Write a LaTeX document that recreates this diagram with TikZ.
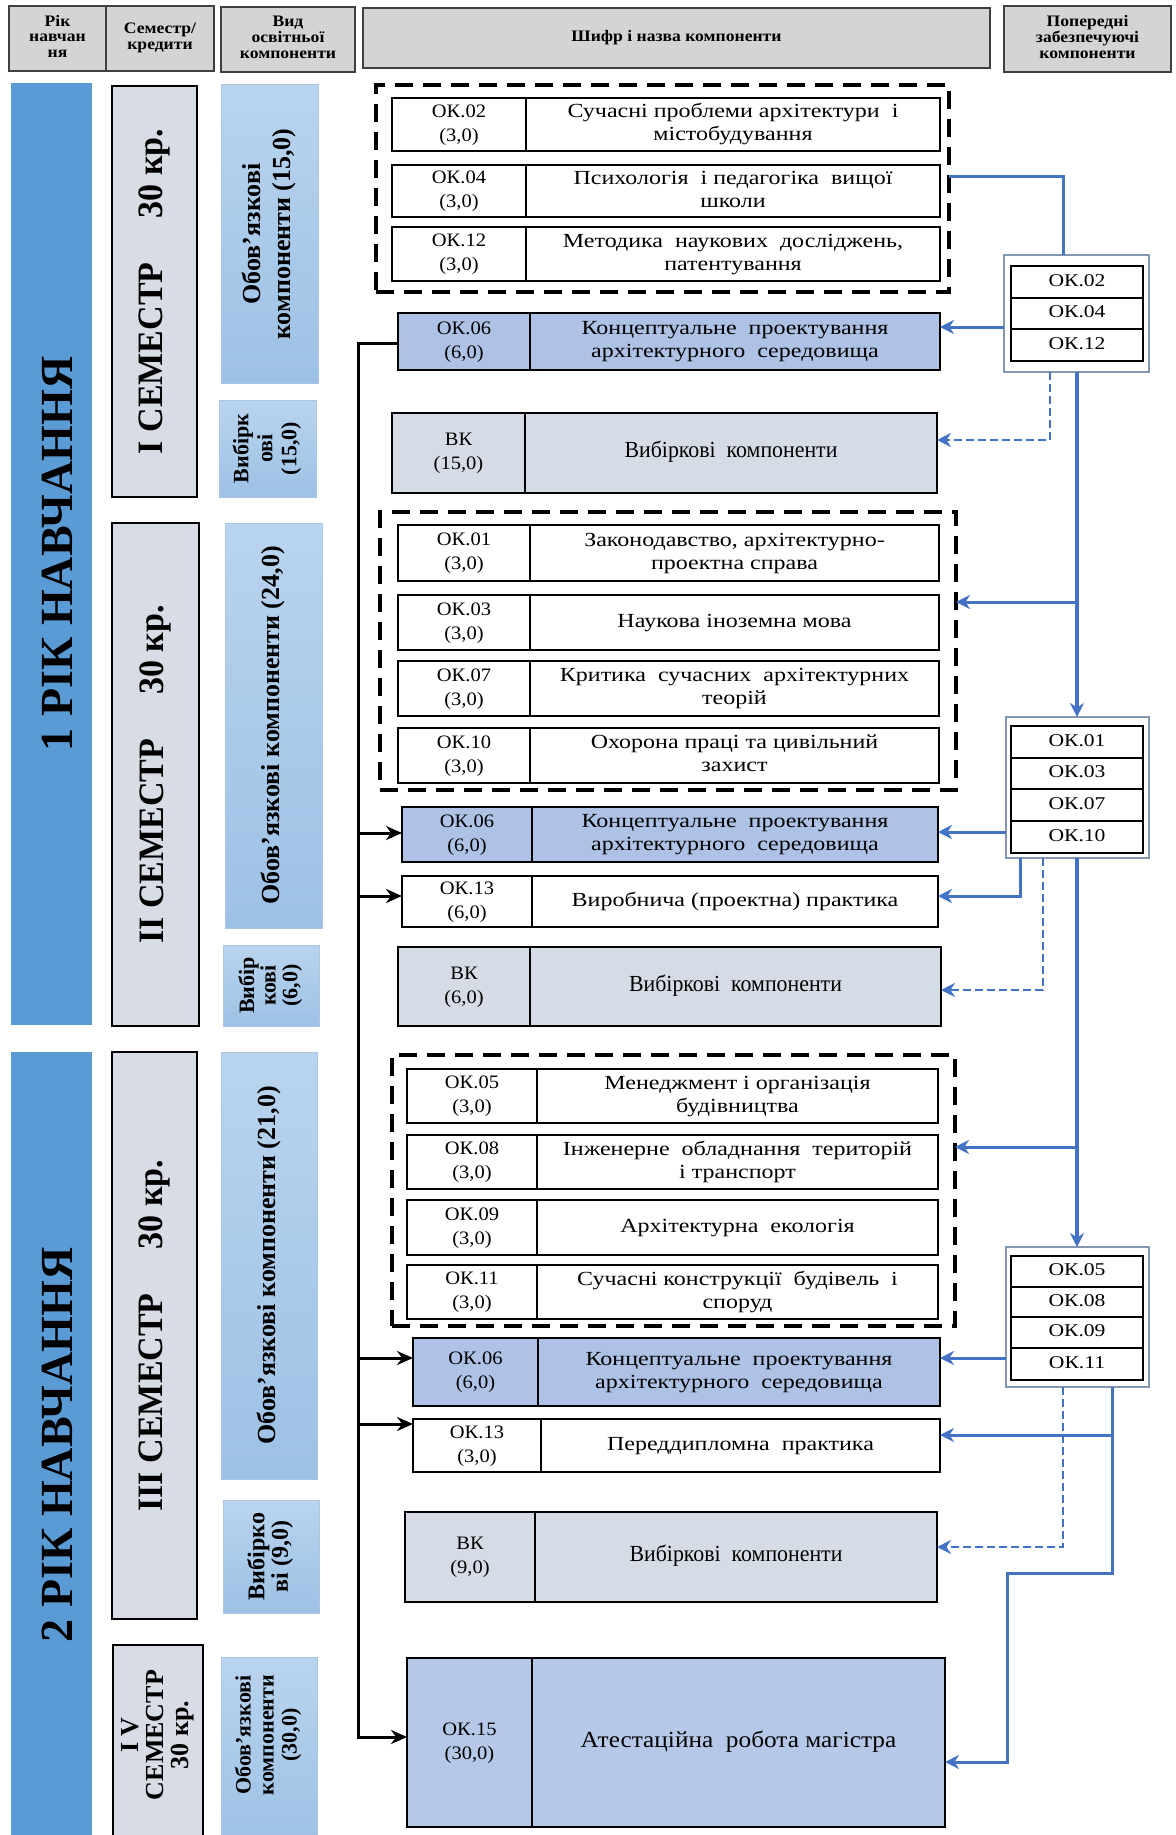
\documentclass[tikz,border=0pt]{standalone}
\usepackage{fontspec}
\setmainfont{Liberation Serif}
\usepackage{graphicx}
\usetikzlibrary{arrows.meta}
\definecolor{yearblue}{HTML}{5B9BD5}
\definecolor{semfill}{HTML}{D8DCE4}
\definecolor{obtop}{HTML}{B9D4EE}
\definecolor{obbot}{HTML}{9DC1E5}
\definecolor{obline}{HTML}{A9C6E6}
\definecolor{okblue}{HTML}{ADC2E5}
\definecolor{attblue}{HTML}{B5C8E8}
\definecolor{vkfill}{HTML}{D6DCE5}
\definecolor{hdrfill}{HTML}{D4D4D4}
\definecolor{hdrline}{HTML}{404040}
\definecolor{lnblue}{HTML}{4472C4}
\definecolor{grpline}{HTML}{8497B0}
\newcommand\mybox[7]{\node[#2,minimum width={((#5)-(#3))*0.5pt},minimum height={((#6)-(#4))*0.5pt}] (#1) at ({((#3)+(#5))/2},{((#4)+(#6))/2}) {#7};}
\newcommand\tx[4][1.2]{\scalebox{#1}[1]{\fontsize{#2}{#3}\selectfont\begin{tabular}{@{}c@{}}#4\end{tabular}}}
\newcommand\txb[4][1.2]{\scalebox{#1}[1]{\fontsize{#2}{#3}\selectfont\bfseries\begin{tabular}{@{}c@{}}#4\end{tabular}}}
\newcommand\rtx[4][1.0]{\scalebox{1}[#1]{\fontsize{#2}{#3}\selectfont\bfseries\begin{tabular}{@{}c@{}}#4\end{tabular}}}
\begin{document}
\begin{tikzpicture}[x=0.5pt,y=-0.5pt,
 every node/.style={inner sep=0pt,outer sep=0pt},
 hdr/.style={draw=hdrline,line width=0.7pt,fill=hdrfill},
 yearbar/.style={fill=yearblue},
 sembox/.style={draw=black,line width=0.7pt,fill=semfill},
 obbox/.style={draw=obline,line width=0.5pt,top color=obtop,bottom color=obbot},
 cell/.style={draw=black,line width=0.8pt,fill=white},
 bluecell/.style={cell,fill=okblue},
 attcell/.style={cell,fill=attblue},
 vkcell/.style={cell,fill=vkfill},
 dgroup/.style={draw=black,line width=1.6pt,dash pattern=on 9pt off 5pt},
 grp/.style={draw=grpline,line width=0.8pt,fill=white},
 gcell/.style={draw=black,line width=0.8pt},
 bline/.style={draw=lnblue,line width=1.5pt},
 bthick/.style={draw=lnblue,line width=2.3pt},
 bdash/.style={draw=lnblue,line width=1.4pt,dash pattern=on 4pt off 2pt},
 btip/.style={-{Stealth[length=7pt,width=7pt]}},
 kline/.style={draw=black,line width=1.5pt},
 ktip/.style={-{Stealth[length=8pt,width=7pt]}}
]
\useasboundingbox (0,0) rectangle (1175,1835);
\fill[white] (0,0) rectangle (1175,1835);

% ---------- header ----------
\mybox{h1}{hdr}{9}{6}{106}{71}{\txb[1.1]{8}{7.8}{Рік\\навчан\\ня}}
\mybox{h2}{hdr}{106}{6}{214}{71}{\txb[1.1]{8}{7.8}{Семестр/\\кредити}}
\mybox{h3}{hdr}{221}{7}{355}{72}{\txb[1.1]{8}{7.8}{Вид\\освітньої\\компоненти}}
\mybox{h4}{hdr}{363}{8}{990}{68}{\txb[1.1]{8}{7.8}{Шифр і назва компоненти}}
\mybox{h5}{hdr}{1004}{6}{1171}{72}{\txb[1.1]{8}{7.8}{Попередні\\забезпечуючі\\компоненти}}

% ---------- left columns ----------
\mybox{y1}{yearbar}{11}{83}{92}{1025}{}
\node[rotate=90] (y1t) at (62,554) {\rtx{23}{26}{1 РІК НАВЧАННЯ}};
\mybox{y2}{yearbar}{11}{1052}{92}{1840}{}
\node[rotate=90] (y2t) at (62,1445) {\rtx{23}{26}{2 РІК НАВЧАННЯ}};

\mybox{s1}{sembox}{112}{86}{197}{497}{}
\node[rotate=90] (s1t) at (s1.center) {\rtx[1.05]{17}{20}{I СЕМЕСТР\hspace{1.3em}30 кр.}};
\mybox{s2}{sembox}{112}{523}{199}{1026}{}
\node[rotate=90] (s2t) at (s2.center) {\rtx[1.05]{17}{20}{II СЕМЕСТР\hspace{1.3em}30 кр.}};
\mybox{s3}{sembox}{112}{1052}{197}{1619}{}
\node[rotate=90] (s3t) at (s3.center) {\rtx[1.05]{17}{20}{III СЕМЕСТР\hspace{1.3em}30 кр.}};
\mybox{s4}{sembox}{113}{1645}{203}{1845}{}
\node[rotate=90] (s4t) at (158,1735) {\rtx{13}{12.5}{I V\\СЕМЕСТР\\30 кр.}};

\mybox{o1}{obbox}{221}{85}{318}{383}{}
\node[rotate=90] (o1t) at (o1.center) {\rtx{13}{15}{Обов’язкові\\компоненти (15,0)}};
\mybox{v1}{obbox}{219}{400}{316}{497}{}
\node[rotate=90] (v1t) at (v1.center) {\rtx{11}{12}{Вибірк\\ові\\(15,0)}};
\mybox{o2}{obbox}{225}{523}{322}{928}{}
\node[rotate=90] (o2t) at (o2.center) {\rtx{13}{15}{Обов’язкові компоненти (24,0)}};
\mybox{v2}{obbox}{223}{945}{319}{1026}{}
\node[rotate=90] (v2t) at (v2.center) {\rtx{11}{10.5}{Вибір\\кові\\(6,0)}};
\mybox{o3}{obbox}{221}{1052}{317}{1479}{}
\node[rotate=90] (o3t) at (o3.center) {\rtx{13}{15}{Обов’язкові компоненти (21,0)}};
\mybox{v3}{obbox}{223}{1500}{319}{1613}{}
\node[rotate=90] (v3t) at (v3.center) {\rtx{12}{11.5}{Вибірко\\ві (9,0)}};
\mybox{o4}{obbox}{221}{1657}{317}{1845}{}
\node[rotate=90] (o4t) at (269,1735) {\rtx{11}{11.5}{Обов’язкові\\компоненти\\(30,0)}};

% ---------- semester I ----------
\mybox{d1}{dgroup}{376}{85}{949}{292}{}
\mybox{a02c}{cell}{392}{98}{526}{151}{\tx[1.08]{9.5}{12}{ОК.02\\(3,0)}}
\mybox{a02n}{cell}{526}{98}{940}{151}{\tx{10}{11.6}{Сучасні проблеми архітектури~ і\\містобудування}}
\mybox{a04c}{cell}{392}{165}{526}{217}{\tx[1.08]{9.5}{12}{ОК.04\\(3,0)}}
\mybox{a04n}{cell}{526}{165}{940}{217}{\tx{10}{11.6}{Психологія~ і педагогіка~ вищої\\школи}}
\mybox{a12c}{cell}{392}{227}{526}{281}{\tx[1.08]{9.5}{12}{ОК.12\\(3,0)}}
\mybox{a12n}{cell}{526}{227}{940}{281}{\tx{10}{11.6}{Методика~ наукових~ досліджень,\\патентування}}
\mybox{a06c}{bluecell}{398}{313}{530}{370}{\tx[1.08]{9.5}{12}{ОК.06\\(6,0)}}
\mybox{a06n}{bluecell}{530}{313}{940}{370}{\tx{10}{11.6}{Концептуальне~ проектування\\архітектурного~ середовища}}
\mybox{avkc}{vkcell}{392}{413}{525}{493}{\tx[1.08]{9.5}{12}{ВК\\(15,0)}}
\mybox{avkn}{vkcell}{525}{413}{937}{493}{\tx[0.95]{11.5}{12}{Вибіркові~ компоненти}}

% ---------- semester II ----------
\mybox{d2}{dgroup}{380}{512}{956}{790}{}
\mybox{b01c}{cell}{398}{525}{530}{581}{\tx[1.08]{9.5}{12}{ОК.01\\(3,0)}}
\mybox{b01n}{cell}{530}{525}{939}{581}{\tx{10}{11.6}{Законодавство, архітектурно-\\проектна справа}}
\mybox{b03c}{cell}{398}{595}{530}{650}{\tx[1.08]{9.5}{12}{ОК.03\\(3,0)}}
\mybox{b03n}{cell}{530}{595}{939}{650}{\tx{10}{11.6}{Наукова іноземна мова}}
\mybox{b07c}{cell}{398}{661}{530}{716}{\tx[1.08]{9.5}{12}{ОК.07\\(3,0)}}
\mybox{b07n}{cell}{530}{661}{939}{716}{\tx{10}{11.6}{Критика~ сучасних~ архітектурних\\теорій}}
\mybox{b10c}{cell}{398}{728}{530}{783}{\tx[1.08]{9.5}{12}{ОК.10\\(3,0)}}
\mybox{b10n}{cell}{530}{728}{939}{783}{\tx{10}{11.6}{Охорона праці та цивільний\\захист}}
\mybox{b06c}{bluecell}{402}{807}{532}{862}{\tx[1.08]{9.5}{12}{ОК.06\\(6,0)}}
\mybox{b06n}{bluecell}{532}{807}{938}{862}{\tx{10}{11.6}{Концептуальне~ проектування\\архітектурного~ середовища}}
\mybox{b13c}{cell}{402}{876}{532}{927}{\tx[1.08]{9.5}{12}{ОК.13\\(6,0)}}
\mybox{b13n}{cell}{532}{876}{938}{927}{\tx{10}{11.6}{Виробнича (проектна) практика}}
\mybox{bvkc}{vkcell}{398}{947}{530}{1026}{\tx[1.08]{9.5}{12}{ВК\\(6,0)}}
\mybox{bvkn}{vkcell}{530}{947}{941}{1026}{\tx[0.95]{11.5}{12}{Вибіркові~ компоненти}}

% ---------- semester III/IV ----------
\mybox{d3}{dgroup}{392}{1055}{955}{1326}{}
\mybox{c05c}{cell}{407}{1069}{537}{1123}{\tx[1.08]{9.5}{12}{ОК.05\\(3,0)}}
\mybox{c05n}{cell}{537}{1069}{938}{1123}{\tx{10}{11.6}{Менеджмент і організація\\будівництва}}
\mybox{c08c}{cell}{407}{1135}{537}{1189}{\tx[1.08]{9.5}{12}{ОК.08\\(3,0)}}
\mybox{c08n}{cell}{537}{1135}{938}{1189}{\tx{10}{11.6}{Інженерне~ обладнання~ територій\\і транспорт}}
\mybox{c09c}{cell}{407}{1200}{537}{1255}{\tx[1.08]{9.5}{12}{ОК.09\\(3,0)}}
\mybox{c09n}{cell}{537}{1200}{938}{1255}{\tx{10}{11.6}{Архітектурна~ екологія}}
\mybox{c11c}{cell}{407}{1265}{537}{1319}{\tx[1.08]{9.5}{12}{ОК.11\\(3,0)}}
\mybox{c11n}{cell}{537}{1265}{938}{1319}{\tx{10}{11.6}{Сучасні конструкції~ будівель~ і\\споруд}}
\mybox{c06c}{bluecell}{413}{1338}{538}{1406}{\tx[1.08]{9.5}{12}{ОК.06\\(6,0)}}
\mybox{c06n}{bluecell}{538}{1338}{940}{1406}{\tx{10}{11.6}{Концептуальне~ проектування\\архітектурного~ середовища}}
\mybox{c13c}{cell}{413}{1419}{541}{1472}{\tx[1.08]{9.5}{12}{ОК.13\\(3,0)}}
\mybox{c13n}{cell}{541}{1419}{940}{1472}{\tx{10}{11.6}{Переддипломна~ практика}}
\mybox{cvkc}{vkcell}{405}{1512}{535}{1602}{\tx[1.08]{9.5}{12}{ВК\\(9,0)}}
\mybox{cvkn}{vkcell}{535}{1512}{937}{1602}{\tx[0.95]{11.5}{12}{Вибіркові~ компоненти}}
\mybox{c15c}{attcell}{407}{1658}{532}{1827}{\tx[1.08]{9.5}{12}{ОК.15\\(30,0)}}
\mybox{c15n}{attcell}{532}{1658}{945}{1827}{\tx[1.1]{11.5}{12}{Атестаційна~ робота магістра}}

% ---------- prerequisite groups ----------
\mybox{g1}{grp}{1004}{255}{1149}{372}{}
\mybox{g1a}{gcell}{1011}{266}{1143}{298}{\tx{9}{10}{ОК.02}}
\mybox{g1b}{gcell}{1011}{298}{1143}{329}{\tx{9}{10}{ОК.04}}
\mybox{g1c}{gcell}{1011}{329}{1143}{361}{\tx{9}{10}{ОК.12}}
\mybox{g2}{grp}{1006}{717}{1149}{858}{}
\mybox{g2a}{gcell}{1011}{726}{1143}{758}{\tx{9}{10}{ОК.01}}
\mybox{g2b}{gcell}{1011}{758}{1143}{789}{\tx{9}{10}{ОК.03}}
\mybox{g2c}{gcell}{1011}{789}{1143}{821}{\tx{9}{10}{ОК.07}}
\mybox{g2d}{gcell}{1011}{821}{1143}{853}{\tx{9}{10}{ОК.10}}
\mybox{g3}{grp}{1006}{1247}{1149}{1387}{}
\mybox{g3a}{gcell}{1011}{1256}{1143}{1287}{\tx{9}{10}{ОК.05}}
\mybox{g3b}{gcell}{1011}{1287}{1143}{1317}{\tx{9}{10}{ОК.08}}
\mybox{g3c}{gcell}{1011}{1317}{1143}{1348}{\tx{9}{10}{ОК.09}}
\mybox{g3d}{gcell}{1011}{1348}{1143}{1380}{\tx{9}{10}{ОК.11}}

% ---------- blue connectors ----------
\coordinate (j1) at (1077,602);
\coordinate (j2) at (1077,1147);
\coordinate (j3) at (1112,1435);
\draw[bline] (d1.east |- 0,177) -- (1063,177) -- (g1.north -| 1063,0);
\draw[bline,btip] (g1.west |- 0,327) -- (a06n.east |- 0,327);
\draw[bdash,btip] (g1.south -| 1050,0) -- (1050,440) -- (avkn.east |- 0,440);
\draw[bthick,btip] (g1.south -| 1077,0) -- (g2.north -| 1077,0);
\draw[bline,btip] (j1) -- (d2.east |- j1);
\draw[bline,btip] (g2.west |- 0,832) -- (b06n.east |- 0,832);
\draw[bline,btip] (g2.south -| 1020,0) -- (1020,896) -- (b13n.east |- 0,896);
\draw[bdash,btip] (g2.south -| 1043,0) -- (1043,990) -- (bvkn.east |- 0,990);
\draw[bthick,btip] (g2.south -| 1077,0) -- (g3.north -| 1077,0);
\draw[bline,btip] (j2) -- (d3.east |- j2);
\draw[bline,btip] (g3.west |- 0,1358) -- (c06n.east |- 0,1358);
\draw[bline,btip] (g3.south -| 1112,0) -- (1112,1573) -- (1007,1573) -- (1007,1762) -- (c15n.east |- 0,1762);
\draw[bline,btip] (j3) -- (c13n.east |- j3);
\draw[bdash,btip] (g3.south -| 1063,0) -- (1063,1547) -- (cvkn.east |- 0,1547);

% ---------- black connectors ----------
\draw[kline,ktip] (a06c.west |- 0,343) -- (358,343) -- (358,1737) -- (c15c.west |- 0,1737);
\draw[kline,ktip] (358,833) -- (b06c.west |- 0,833);
\draw[kline,ktip] (358,896) -- (b13c.west |- 0,896);
\draw[kline,ktip] (358,1358) -- (c06c.west |- 0,1358);
\draw[kline,ktip] (358,1424) -- (c13c.west |- 0,1424);
\end{tikzpicture}
\end{document}
